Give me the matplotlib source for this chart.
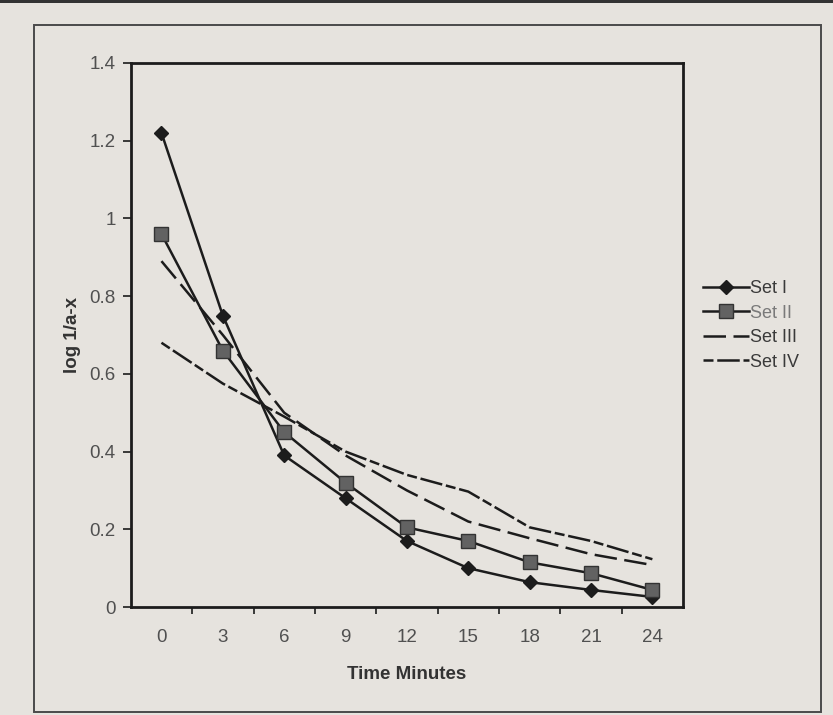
import numpy as np
import matplotlib
matplotlib.use("Agg")
import matplotlib.pyplot as plt
from matplotlib.patches import Rectangle
from matplotlib.ticker import FixedLocator, FuncFormatter

plt.rcParams["font.family"] = ["Liberation Sans", "DejaVu Sans"]

# data
times = [0, 3, 6, 9, 12, 15, 18, 21, 24]
set_1 = [1.22, 0.75, 0.39, 0.28, 0.17, 0.10, 0.064, 0.044, 0.026]
set_2 = [0.96, 0.66, 0.45, 0.32, 0.205, 0.17, 0.115, 0.087, 0.044]
set_3 = [0.89, 0.70, 0.50, 0.39, 0.30, 0.22, 0.177, 0.136, 0.108]
set_4 = [0.68, 0.575, 0.49, 0.40, 0.34, 0.297, 0.205, 0.17, 0.123]
labels = ["Set I", "Set II", "Set III", "Set IV"]

bg = "#e6e3de"
ink = "#1c1c1c"

fig = plt.figure(figsize=(8.33, 7.15), dpi=100, facecolor=bg)
ax = fig.add_axes([0.157, 0.151, 0.663, 0.761])
ax.set_facecolor(bg)

# outer chart border from the printed page
fig.patches.append(Rectangle((0.041, 0.004), 0.944, 0.961, transform=fig.transFigure,
                             fill=False, edgecolor="#4a4a4a", linewidth=1.4))
fig.patches.append(Rectangle((0, 0.996), 1, 0.004, transform=fig.transFigure,
                             facecolor="#333333", edgecolor="none"))

ax.plot(times, set_1, color=ink, lw=1.8, marker="D", markersize=7,
        markerfacecolor=ink, markeredgecolor=ink, label=labels[0])
ax.plot(times, set_2, color=ink, lw=1.8, marker="s", markersize=9.5,
        markerfacecolor="#626262", markeredgecolor="#333333", label=labels[1])
ax.plot(times, set_3, color=ink, lw=1.8, linestyle=(0, (9, 3)), label=labels[2])
ax.plot(times, set_4, color=ink, lw=1.8, linestyle=(0, (4, 1.5, 9, 1.5)), label=labels[3])

ax.set_xlim(-1.5, 25.5)
ax.set_ylim(0, 1.4)

# category style x axis: labels at the points, ticks between them
ax.xaxis.set_major_locator(FixedLocator(times))
ax.xaxis.set_minor_locator(FixedLocator([t + 1.5 for t in times[:-1]]))
ax.tick_params(axis="x", which="major", length=0, pad=16)
ax.tick_params(axis="x", which="minor", length=5, width=1.2, direction="out", color=ink)
ax.set_yticks(np.arange(0, 1.41, 0.2))
ax.yaxis.set_major_formatter(FuncFormatter(lambda v, p: "%g" % round(v, 1)))
ax.tick_params(axis="y", length=6, width=1.2, direction="out", color=ink, pad=5)
ax.tick_params(labelsize=13.5, labelcolor="#505050")

for s in ax.spines.values():
    s.set_linewidth(2)
    s.set_color(ink)

ax.set_xlabel("Time Minutes", fontsize=13.5, fontweight="bold", color="#333333", labelpad=14)
ax.set_ylabel("log 1/a-x", fontsize=13.5, fontweight="bold", color="#333333", labelpad=6)

leg = fig.legend(loc="center left", bbox_to_anchor=(0.825, 0.545), frameon=False,
                 fontsize=13, handlelength=2.5, handletextpad=0.1, labelspacing=0.42)
for t in leg.get_texts():
    t.set_color("#3a3a3a")
leg.get_texts()[1].set_color("#7a7a7a")

fig.savefig("out.png", dpi=100, facecolor=bg)
